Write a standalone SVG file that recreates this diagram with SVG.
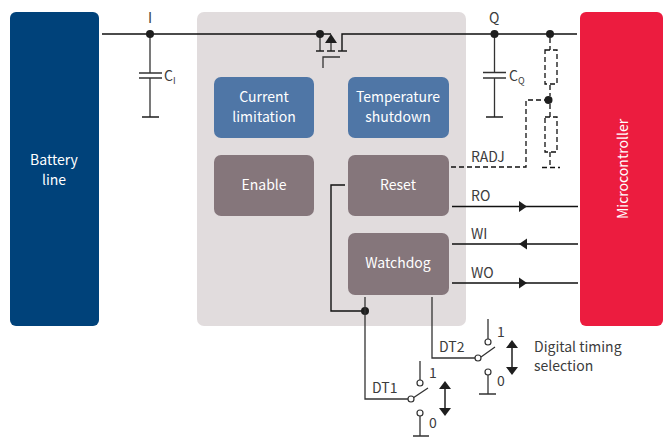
<svg xmlns="http://www.w3.org/2000/svg" width="663" height="439" viewBox="0 0 663 439">
<style>
text{font-family:"Noto Sans CJK SC","Noto Sans",sans-serif;font-size:14px;fill:#3c3c3c}
.w{fill:#fff;text-anchor:middle}
.l{fill:none;stroke:#111;stroke-width:1.4}
.t{fill:none;stroke:#1e1e1e;stroke-width:1.7}
.g{fill:none;stroke:#333;stroke-width:1.3}
.d{fill:none;stroke:#111;stroke-width:1.3;stroke-dasharray:5 3}
.dot{fill:#1e1e1e}
.o{fill:#fff;stroke:#333;stroke-width:1.2}
.blue{fill:#4f76a6}
.br{fill:#85767b}
</style>
<rect width="663" height="439" fill="#fff"/>
<g id="chip"><rect x="197" y="12" width="269" height="314" rx="7" fill="#e1dcdd"/></g>
<g id="battery"><rect x="10" y="12" width="89" height="314" rx="6" fill="#00427a"/><text class="w" x="54" y="165">Battery</text><text class="w" x="54" y="185">line</text></g>
<g id="micro"><rect x="580" y="12" width="83" height="314" rx="6" fill="#ec1c3f"/><text class="w" transform="translate(628 169) rotate(-90)">Microcontroller</text></g>
<g id="current"><rect x="214" y="77" width="100" height="61" rx="7" class="blue"/><text class="w" x="264" y="102">Current</text><text class="w" x="264" y="122">limitation</text></g>
<g id="temp"><rect x="348" y="77" width="101" height="61" rx="7" class="blue"/><text class="w" x="398" y="102">Temperature</text><text class="w" x="398" y="122">shutdown</text></g>
<g id="enable"><rect x="214" y="155" width="100" height="61" rx="7" class="br"/><text class="w" x="264" y="190">Enable</text></g>
<g id="reset"><rect x="348" y="155" width="101" height="61" rx="7" class="br"/><text class="w" x="398" y="190">Reset</text></g>
<g id="watchdog"><rect x="348" y="233" width="101" height="62" rx="7" class="br"/><text class="w" x="398" y="268">Watchdog</text></g>
<g id="connectors">
<path class="l" d="M102 34H331M342 51V34H577"/>
<path class="g" d="M150 34V73M150 78V117M320 34V51M331 42V51M139 73H162M139 78H162M483 72.500H506M483 78H506M494.500 34V72M494.500 78V117M323 68V57H340"/>
<path class="t" d="M316 51H324M327 51H335M338 51H347M142 117H159M486 117H503"/>
<path fill="#1e1e1e" d="M331 34L337 43H325Z"/>
<circle class="dot" cx="150" cy="34" r="4"/><circle class="dot" cx="320" cy="34" r="4"/><circle class="dot" cx="494.500" cy="34" r="4"/><circle class="dot" cx="550" cy="34" r="4"/><circle class="dot" cx="548.500" cy="100" r="4"/>
<path class="d" d="M550 38V50M550 85V96M550 104V117M550 152V167M542 167.500H560"/>
<rect class="d" x="545" y="50" width="12" height="34"/><rect class="d" x="545" y="117" width="12" height="35"/>
<path class="d" d="M451 167H526V100H545"/>
<path class="l" d="M452 206.500H578M452 244H578M452 283H578"/>
<path fill="#1e1e1e" d="M519 201L527 206.500L519 212ZM527 238.500L519 244L527 249.500ZM519 277.500L527 283L519 288.500Z"/>
<path class="l" d="M345 185H331V311H365"/>
<circle class="dot" cx="365" cy="311" r="4"/>
<path class="g" d="M365 297V399H408M432 297V358H475"/>
<path class="g" d="M420 361V380M413 398L428 388M420 416V436M413 436H429M488 319V339M481 357L495 347M488 375V394M479 394H496"/>
<circle class="o" cx="411" cy="399" r="3"/><circle class="o" cx="420" cy="383" r="3"/><circle class="o" cx="420" cy="413" r="3"/>
<circle class="o" cx="478" cy="358" r="3"/><circle class="o" cx="488" cy="342" r="3"/><circle class="o" cx="488" cy="372" r="3"/>
<path class="l" d="M445 388V410M512 346V368"/>
<path fill="#1e1e1e" d="M445 381L451 389H439ZM445 416L451 408H439ZM512 340L518 348H506ZM512 375L518 367H506Z"/>
</g>
<g id="labels">
<text x="148" y="23">I</text><text x="489" y="23">Q</text>
<text x="164" y="81">C<tspan font-size="9" dy="3">I</tspan></text>
<text x="509" y="81">C<tspan font-size="9" dy="3">Q</tspan></text>
<text x="471" y="162">RADJ</text><text x="471" y="201">RO</text><text x="471" y="239">WI</text><text x="471" y="278">WO</text>
<text x="372" y="393">DT1</text><text x="439" y="352">DT2</text>
<text x="429" y="378">1</text><text x="429" y="428">0</text><text x="497" y="337">1</text><text x="497" y="386">0</text>
<text x="534" y="352">Digital timing</text><text x="534" y="371">selection</text>
</g>
</svg>
